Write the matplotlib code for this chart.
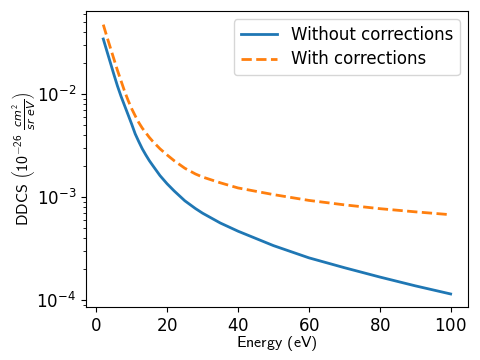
import numpy as np
import matplotlib
matplotlib.use("Agg")
from matplotlib import pyplot as plt

# values
energy = [2, 3, 4, 5, 6, 7, 8, 9, 10, 11, 12, 13, 14, 15, 16, 18, 20, 22, 25, 28,
          30, 35, 40, 50, 60, 70, 80, 90, 100]
ddcs_without = [0.0343, 0.0263, 0.0202, 0.0155, 0.0120, 0.00955, 0.00776, 0.00631,
                0.00513, 0.00412, 0.00347, 0.00295, 0.00257, 0.00226, 0.00202, 0.00162,
                0.00135, 0.00115, 9.23e-4, 7.76e-4, 7.00e-4, 5.62e-4, 4.68e-4, 3.39e-4,
                2.58e-4, 2.07e-4, 1.68e-4, 1.38e-4, 1.15e-4]
ddcs_with = [0.0473, 0.0363, 0.0282, 0.0219, 0.0170, 0.0135, 0.0107, 0.00871,
             0.00724, 0.00617, 0.00531, 0.00468, 0.00422, 0.00380, 0.00347, 0.00295,
             0.00257, 0.00226, 0.00191, 0.00168, 0.00157, 0.00138, 0.00123, 0.00106,
             9.31e-4, 8.43e-4, 7.74e-4, 7.21e-4, 6.76e-4]

plt.rcParams['mathtext.fontset'] = 'custom'
plt.rcParams['mathtext.rm'] = 'cmss10'
plt.rcParams['mathtext.sf'] = 'cmss10'
plt.rcParams['mathtext.it'] = 'DejaVu Sans:italic'
plt.rcParams['axes.formatter.use_mathtext'] = True

def main():
        fig, ax = plt.subplots(figsize=(4.8, 3.6), dpi=100)
        fig.subplots_adjust(left=0.179, right=0.975, top=0.969, bottom=0.146)

        ax.plot(energy, ddcs_without, color='#1f77b4', lw=2, label='Without corrections')
        ax.plot(energy, ddcs_with, color='#ff7f0e', lw=2, ls='--', label='With corrections')
        ax.set_yscale('log')

        ax.set_xticks([0, 20, 40, 60, 80, 100])
        ax.tick_params(axis='both', labelsize=12)

        ax.set_xlabel(r'$\mathrm{Energy\ (eV)}$', fontsize=11.5, labelpad=-1)
        ax.set_ylabel(r'$\mathrm{DDCS}\ \left(10^{-26}\ \frac{cm^2}{sr\ eV}\right)$',
                      fontsize=11.5, labelpad=-2)

        ax.legend(loc='upper right', fontsize=12, handlelength=2.2, labelspacing=0.38)
        fig.savefig('out.png')

if __name__ == "__main__":
        main()
